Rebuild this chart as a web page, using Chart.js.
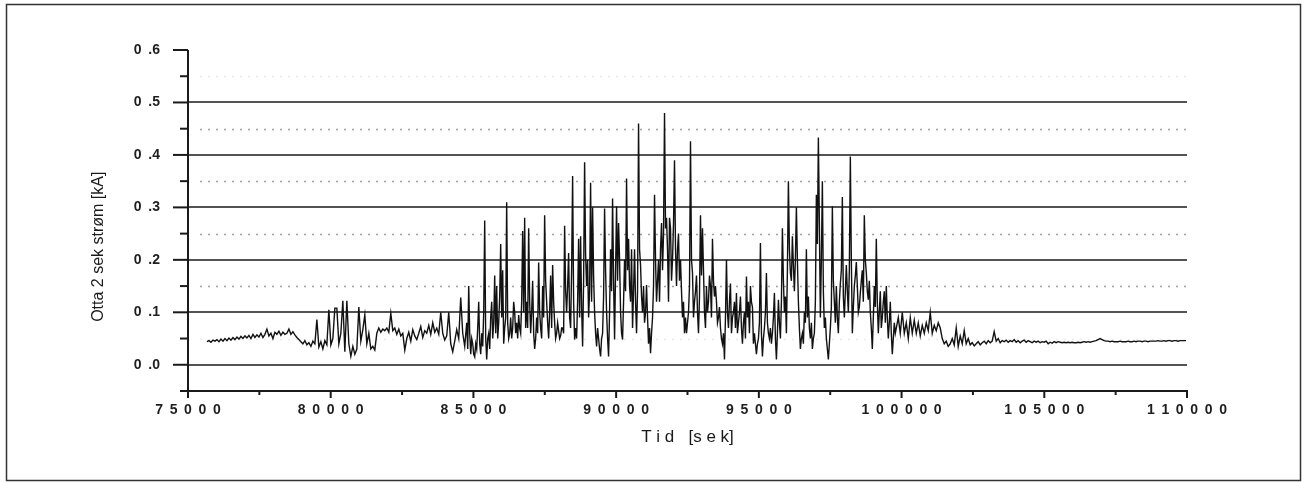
<!DOCTYPE html>
<html>
<head>
<meta charset="utf-8">
<script src="https://cdn.jsdelivr.net/npm/chart.js@4.4.1/dist/chart.umd.min.js"></script>
<style>
  html, body { margin: 0; padding: 0; background: #fff; }
  canvas { display: block; }
</style>
</head>
<body>
<canvas id="myChart" width="1307" height="483"></canvas>
<script>
// Otta 2 sek strøm, one reading per ~70 s (kA)
const startTid = 75665;
const stegTid = 70;
const strom = [
  0.044, 0.046, 0.043, 0.047, 0.045, 0.048, 0.044, 0.049, 0.045, 0.050,
  0.046, 0.051, 0.047, 0.052, 0.048, 0.053, 0.049, 0.054, 0.050, 0.055,
  0.051, 0.056, 0.050, 0.058, 0.052, 0.057, 0.053, 0.060, 0.052, 0.058,
  0.068, 0.055, 0.060, 0.050, 0.062, 0.058, 0.064, 0.056, 0.062, 0.058,
  0.060, 0.068, 0.058, 0.063, 0.057, 0.052, 0.048, 0.044, 0.040, 0.046,
  0.038, 0.042, 0.035, 0.045, 0.040, 0.086, 0.034, 0.044, 0.030, 0.046,
  0.038, 0.105, 0.038, 0.050, 0.108, 0.108, 0.040, 0.060, 0.122, 0.025,
  0.122, 0.040, 0.016, 0.035, 0.020, 0.030, 0.110, 0.045, 0.067, 0.095,
  0.040, 0.060, 0.030, 0.035, 0.028, 0.060, 0.070, 0.062, 0.068, 0.065,
  0.070, 0.062, 0.098, 0.065, 0.070, 0.058, 0.068, 0.055, 0.060, 0.028,
  0.050, 0.062, 0.045, 0.067, 0.055, 0.048, 0.060, 0.073, 0.052, 0.065,
  0.060, 0.075, 0.058, 0.080, 0.062, 0.070, 0.058, 0.100, 0.060, 0.047,
  0.055, 0.100, 0.040, 0.025, 0.045, 0.067, 0.050, 0.128, 0.060, 0.035,
  0.080, 0.150, 0.020, 0.040, 0.015, 0.030, 0.120, 0.020, 0.035, 0.275,
  0.010, 0.060, 0.090, 0.050, 0.170, 0.150, 0.080, 0.230, 0.180, 0.070,
  0.310, 0.050, 0.090, 0.070, 0.100, 0.080, 0.095, 0.060, 0.255, 0.280,
  0.120, 0.260, 0.060, 0.160, 0.030, 0.090, 0.195, 0.070, 0.150, 0.285,
  0.120, 0.050, 0.170, 0.190, 0.080, 0.060, 0.065, 0.055, 0.070, 0.265,
  0.100, 0.213, 0.070, 0.360, 0.048, 0.050, 0.240, 0.245, 0.035, 0.386,
  0.150, 0.090, 0.347, 0.300, 0.100, 0.035, 0.050, 0.016, 0.060, 0.298,
  0.100, 0.016, 0.220, 0.317, 0.048, 0.302, 0.270, 0.100, 0.048, 0.200,
  0.355, 0.240, 0.120, 0.070, 0.220, 0.060, 0.460, 0.190, 0.100, 0.080,
  0.152, 0.040, 0.022, 0.090, 0.324, 0.120, 0.200, 0.220, 0.180, 0.480,
  0.280, 0.120, 0.260, 0.200, 0.390, 0.150, 0.250, 0.200, 0.090, 0.060,
  0.060, 0.100, 0.426, 0.175, 0.120, 0.170, 0.060, 0.285, 0.260, 0.100,
  0.150, 0.120, 0.150, 0.240, 0.130, 0.120, 0.090, 0.070, 0.040, 0.010,
  0.200, 0.070, 0.155, 0.090, 0.120, 0.137, 0.080, 0.130, 0.040, 0.100,
  0.168, 0.120, 0.150, 0.110, 0.060, 0.020, 0.050, 0.232, 0.016, 0.070,
  0.175, 0.060, 0.070, 0.060, 0.137, 0.010, 0.124, 0.050, 0.260, 0.100,
  0.060, 0.350, 0.175, 0.245, 0.140, 0.300, 0.120, 0.030, 0.060, 0.100,
  0.220, 0.130, 0.050, 0.030, 0.060, 0.324, 0.433, 0.090, 0.350, 0.070,
  0.050, 0.010, 0.070, 0.302, 0.120, 0.150, 0.060, 0.155, 0.320, 0.090,
  0.190, 0.100, 0.397, 0.060, 0.150, 0.196, 0.100, 0.137, 0.180, 0.285,
  0.175, 0.124, 0.100, 0.030, 0.150, 0.240, 0.060, 0.140, 0.090, 0.140,
  0.150, 0.050, 0.120, 0.020, 0.080, 0.070, 0.090, 0.060, 0.100, 0.060,
  0.080, 0.050, 0.090, 0.060, 0.085, 0.060, 0.080, 0.055, 0.075, 0.060,
  0.080, 0.065, 0.100, 0.060, 0.075, 0.065, 0.080, 0.070, 0.050, 0.040,
  0.045, 0.035, 0.040, 0.050, 0.038, 0.070, 0.035, 0.055, 0.040, 0.065,
  0.040, 0.050, 0.038, 0.042, 0.036, 0.040, 0.044, 0.038, 0.042, 0.045,
  0.040, 0.046, 0.042, 0.045, 0.063, 0.045, 0.050, 0.042, 0.046, 0.044,
  0.047, 0.043, 0.046, 0.044, 0.048, 0.043, 0.046, 0.042, 0.045, 0.047,
  0.043, 0.046, 0.044, 0.042, 0.045, 0.043, 0.045, 0.042, 0.044, 0.043,
  0.045, 0.040, 0.043, 0.041, 0.044, 0.042, 0.044, 0.043, 0.042, 0.043,
  0.042, 0.043, 0.042, 0.043, 0.042, 0.042, 0.043, 0.042, 0.043, 0.044,
  0.043, 0.044, 0.043, 0.044, 0.045, 0.046, 0.048, 0.050, 0.048, 0.046,
  0.045, 0.045, 0.044, 0.045, 0.044, 0.044, 0.044, 0.045, 0.044, 0.044,
  0.044, 0.045, 0.044, 0.044, 0.045, 0.044, 0.045, 0.045, 0.044, 0.045,
  0.045, 0.044, 0.045, 0.045, 0.045, 0.045, 0.046, 0.045, 0.045, 0.046,
  0.045, 0.046, 0.046, 0.045, 0.046, 0.046, 0.045, 0.046, 0.046, 0.046,
  0.046
];

// extra readings in the busy stretch (~84400-99500 s), each 35 s after strom[mellomFra + j]
const mellomFra = 130;
const stromMellom = [
  0.03, 0.06, 0.05, 0.02, 0.04, 0.07, 0.04, 0.06, 0.10, 0.05,
  0.05, 0.03, 0.12, 0.08, 0.06, 0.05, 0.13, 0.09, 0.04, 0.09,
  0.08, 0.06, 0.05, 0.12, 0.06, 0.05, 0.07, 0.12, 0.10, 0.07,
  0.07, 0.12, 0.10, 0.06, 0.05, 0.06, 0.10, 0.05, 0.09, 0.16,
  0.08, 0.10, 0.07, 0.12, 0.05, 0.08, 0.05, 0.07, 0.06, 0.14,
  0.15, 0.09, 0.18, 0.12, 0.07, 0.12, 0.09, 0.11, 0.16, 0.21,
  0.20, 0.14, 0.12, 0.17, 0.06, 0.07, 0.03, 0.05, 0.13, 0.18,
  0.05, 0.10, 0.14, 0.16, 0.18, 0.16, 0.20, 0.06, 0.12, 0.14,
  0.18, 0.15, 0.22, 0.14, 0.12, 0.14, 0.22, 0.13, 0.15, 0.10,
  0.09, 0.07, 0.06, 0.15, 0.20, 0.16, 0.12, 0.27, 0.25, 0.26,
  0.22, 0.28, 0.16, 0.27, 0.22, 0.22, 0.16, 0.14, 0.12, 0.09,
  0.08, 0.15, 0.20, 0.09, 0.14, 0.10, 0.13, 0.17, 0.18, 0.07,
  0.10, 0.17, 0.09, 0.16, 0.15, 0.08, 0.11, 0.05, 0.06, 0.09,
  0.10, 0.12, 0.06, 0.10, 0.07, 0.06, 0.10, 0.07, 0.08, 0.05,
  0.09, 0.06, 0.12, 0.04, 0.04, 0.04, 0.08, 0.06, 0.05, 0.10,
  0.08, 0.05, 0.04, 0.09, 0.05, 0.06, 0.08, 0.12, 0.16, 0.13,
  0.18, 0.22, 0.16, 0.19, 0.20, 0.20, 0.07, 0.05, 0.04, 0.08,
  0.09, 0.07, 0.08, 0.05, 0.12, 0.23, 0.27, 0.20, 0.14, 0.09,
  0.03, 0.04, 0.11, 0.16, 0.08, 0.09, 0.12, 0.18, 0.13, 0.14,
  0.14, 0.18, 0.20, 0.11, 0.17, 0.15, 0.11, 0.16, 0.12, 0.20,
  0.14, 0.16, 0.07, 0.09, 0.11, 0.12, 0.10, 0.07, 0.12, 0.08,
  0.09, 0.08, 0.06, 0.05, 0.06
];

// axis ranges and tick values
const xMin = 75000;
const xMax = 110000;
const xTicks = [75000, 80000, 85000, 90000, 95000, 100000, 105000, 110000];
const yMin = -0.05;
const yMax = 0.6;
const yTicks = [0.0, 0.1, 0.2, 0.3, 0.4, 0.5, 0.6];
const yLabel = "Otta 2 sek strøm [kA]";
const xLabel = "T i d   [s e k]";

const points = [];
strom.forEach((v, i) => {
  const t = startTid + i * stegTid;
  points.push({ x: t, y: v });
  const j = i - mellomFra;
  if (j >= 0 && j < stromMellom.length) {
    points.push({ x: t + stegTid / 2, y: stromMellom[j] });
  }
});

// wide letter spacing like the old plotter font
const spaced = (s) => s.split("").join(" \u2009");

// grid, axes, tick marks and frame, drawn against the chart's own scales
const paperPlugin = {
  id: "paper",
  beforeDraw(chart) {
    const { ctx, width, height } = chart;
    ctx.save();
    ctx.fillStyle = "#ffffff";
    ctx.fillRect(0, 0, width, height);
    ctx.strokeStyle = "#333";
    ctx.lineWidth = 1.5;
    ctx.strokeRect(6.5, 4.5, 1294, 476);
    ctx.restore();
  },
  beforeDatasetsDraw(chart) {
    const { ctx, chartArea } = chart;
    const x = chart.scales.x;
    const y = chart.scales.y;
    const left = chartArea.left;
    const right = chartArea.right;
    ctx.save();
    // dotted half lines
    ctx.setLineDash([2, 6]);
    ctx.lineWidth = 1.4;
    [0.05, 0.15, 0.25, 0.35, 0.45, 0.55].forEach((v) => {
      const py = Math.round(y.getPixelForValue(v)) + 0.5;
      ctx.strokeStyle = v === 0.55 || v === 0.05 ? "#ececec" : "#a0a0a0";
      ctx.beginPath();
      ctx.moveTo(left + 12, py);
      ctx.lineTo(right, py);
      ctx.stroke();
    });
    ctx.setLineDash([]);
    // solid lines
    ctx.strokeStyle = "#1a1a1a";
    ctx.lineWidth = 1.6;
    [0, 0.1, 0.2, 0.3, 0.4, 0.5].forEach((v) => {
      const py = Math.round(y.getPixelForValue(v));
      ctx.beginPath();
      ctx.moveTo(left, py);
      ctx.lineTo(right, py);
      ctx.stroke();
    });
    // axes
    ctx.lineWidth = 2;
    const yTop = y.getPixelForValue(yMax);
    const yBot = y.getPixelForValue(yMin);
    ctx.beginPath();
    ctx.moveTo(left, yTop);
    ctx.lineTo(left, yBot + 1);
    ctx.moveTo(left - 7, yBot);
    ctx.lineTo(right + 1, yBot);
    ctx.stroke();
    // y ticks
    for (let k = -1; k <= 12; k++) {
      const v = k * 0.05;
      const py = y.getPixelForValue(v);
      const len = k % 2 === 0 ? 15 : 8;
      ctx.beginPath();
      ctx.moveTo(left - len, py);
      ctx.lineTo(left, py);
      ctx.stroke();
    }
    // x ticks
    for (let t = xMin; t <= xMax; t += 2500) {
      const px = x.getPixelForValue(t);
      const len = t % 5000 === 0 ? 7 : 4;
      ctx.beginPath();
      ctx.moveTo(px, yBot);
      ctx.lineTo(px, yBot + len);
      ctx.stroke();
    }
    ctx.restore();
  },
  afterDraw(chart) {
    const { ctx } = chart;
    const y = chart.scales.y;
    ctx.save();
    ctx.translate(99, y.getPixelForValue(0.225));
    ctx.rotate(-Math.PI / 2);
    ctx.font = '16px "Liberation Sans", Arial, sans-serif';
    ctx.fillStyle = "#1a1a1a";
    ctx.textAlign = "center";
    ctx.textBaseline = "middle";
    ctx.fillText(yLabel, 0, 0);
    ctx.restore();
  },
};

const tickFont = { family: '"Liberation Sans", Arial, sans-serif', size: 14, weight: "bold" };

new Chart("myChart", {
  type: "line",
  data: {
    datasets: [
      {
        label: yLabel,
        data: points,
        borderColor: "#111",
        borderWidth: 1.4,
        pointRadius: 0,
        tension: 0,
        fill: false,
      },
    ],
  },
  options: {
    responsive: false,
    animation: false,
    events: [],
    layout: { padding: { left: 0, top: 50, right: 120, bottom: 0 } },
    plugins: { legend: { display: false }, tooltip: { enabled: false } },
    scales: {
      x: {
        type: "linear",
        min: xMin,
        max: xMax,
        grid: { display: false, drawTicks: false },
        border: { display: false },
        ticks: {
          stepSize: 5000,
          autoSkip: false,
          maxRotation: 0,
          padding: 11,
          color: "#1e1e1e",
          font: tickFont,
          callback: (v) => (xTicks.includes(v) ? spaced(String(v)) : ""),
        },
        title: {
          display: true,
          text: xLabel,
          color: "#1a1a1a",
          font: { family: '"Liberation Sans", Arial, sans-serif', size: 17 },
          padding: { top: 0, bottom: 35 },
        },
        afterFit: (s) => {
          s.height = 92;
        },
      },
      y: {
        min: yMin,
        max: yMax,
        grid: { display: false, drawTicks: false },
        border: { display: false },
        ticks: {
          stepSize: 0.1,
          autoSkip: false,
          padding: 28,
          color: "#1e1e1e",
          font: tickFont,
          callback: (v) => {
            const n = Math.round(v * 10);
            if (n < 0 || Math.abs(v * 10 - n) > 1e-6) return "";
            return "0 \u2009." + n;
          },
        },
        afterFit: (s) => {
          s.width = 188;
        },
      },
    },
  },
  plugins: [paperPlugin],
});
</script>
</body>
</html>
